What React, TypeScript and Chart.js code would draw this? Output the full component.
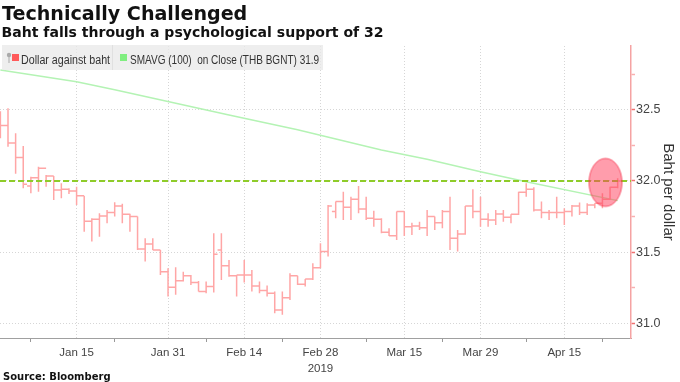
import React, { useEffect, useRef } from 'react';
import { Chart, registerables } from 'chart.js';

Chart.register(...registerables);

// Trading-day index 0 = Jan 1, 2019 ... 81 = Apr 24, 2019
const tickIdx = [10, 22, 32, 42, 53, 63, 74];
const tickLabels: (string | string[])[] = ['Jan 15', 'Jan 31', 'Feb 14', ['Feb 28', '2019'], 'Mar 15', 'Mar 29', 'Apr 15'];
const minorTickIdx = [4, 15, 27, 37, 48, 58, 69, 79];

const yMajorTicks = [31.0, 31.5, 32.0, 32.5];
const yMinorTicks = [31.25, 31.75, 32.25, 32.75];

const opens = [
  32.40, 32.389, 32.267, 32.164, 31.965, 32.023, 32.09, 32.035, 31.937, 31.941,
  31.93, 31.897, 31.717, 31.731, 31.754, 31.778, 31.824, 31.766, 31.75, 31.522,
  31.558, 31.515, 31.363, 31.253, 31.30, 31.335, 31.286, 31.223, 31.258, 31.515,
  31.405, 31.335, 31.34, 31.34, 31.263, 31.23, 31.211, 31.094, 31.18, 31.335,
  31.274, 31.312, 31.391, 31.504, 31.785, 31.855, 31.815, 31.871, 31.803, 31.738,
  31.731, 31.64, 31.616, 31.785, 31.679, 31.684, 31.672, 31.75, 31.707, 31.785,
  31.597, 31.628, 31.824, 31.785, 31.731, 31.726, 31.768, 31.745, 31.766, 31.92,
  31.941, 31.796, 31.778, 31.778, 31.778, 31.785, 31.824, 31.778, 31.831, 31.843,
  31.871, 31.956,
];
const highs = [
  32.49, 32.51, 32.335, 32.246, 32.03, 32.10, 32.042, 32.035, 31.984, 31.949,
  31.96, 31.895, 31.738, 31.773, 31.796, 31.85, 31.84, 31.77, 31.75, 31.597,
  31.597, 31.515, 31.387, 31.394, 31.363, 31.34, 31.298, 31.293, 31.632, 31.632,
  31.445, 31.34, 31.445, 31.375, 31.293, 31.265, 31.223, 31.223, 31.352, 31.335,
  31.312, 31.422, 31.562, 31.831, 31.855, 31.925, 31.89, 31.965, 31.89, 31.79,
  31.738, 31.668, 31.785, 31.785, 31.707, 31.714, 31.796, 31.75, 31.796, 31.89,
  31.656, 31.824, 31.941, 31.89, 31.773, 31.796, 31.796, 31.766, 31.925, 31.984,
  31.955, 31.855, 31.796, 31.89, 31.808, 31.831, 31.848, 31.843, 31.843, 31.913,
  31.96, 32.019,
];
const lows = [
  32.30, 32.24, 32.05, 31.949, 31.913, 31.925, 31.96, 31.867, 31.878, 31.909,
  31.831, 31.644, 31.574, 31.609, 31.703, 31.75, 31.703, 31.644, 31.515, 31.434,
  31.515, 31.34, 31.188, 31.20, 31.293, 31.27, 31.223, 31.211, 31.216, 31.305,
  31.328, 31.188, 31.286, 31.223, 31.211, 31.188, 31.07, 31.06, 31.164, 31.27,
  31.258, 31.305, 31.387, 31.469, 31.738, 31.726, 31.726, 31.773, 31.726, 31.679,
  31.632, 31.614, 31.586, 31.614, 31.62, 31.656, 31.614, 31.656, 31.668, 31.515,
  31.504, 31.623, 31.738, 31.679, 31.679, 31.691, 31.714, 31.703, 31.761, 31.89,
  31.785, 31.738, 31.726, 31.738, 31.691, 31.75, 31.761, 31.761, 31.808, 31.808,
  31.867, 31.948,
];
const closes = [
  32.389, 32.267, 32.164, 31.977, 32.023, 32.09, 32.035, 31.937, 31.941, 31.93,
  31.897, 31.717, 31.731, 31.754, 31.778, 31.824, 31.766, 31.75, 31.522, 31.558,
  31.515, 31.363, 31.253, 31.30, 31.335, 31.286, 31.223, 31.258, 31.485, 31.405,
  31.335, 31.34, 31.34, 31.263, 31.23, 31.211, 31.094, 31.18, 31.335, 31.274,
  31.312, 31.391, 31.504, 31.824, 31.855, 31.815, 31.871, 31.803, 31.738, 31.731,
  31.64, 31.616, 31.785, 31.679, 31.684, 31.672, 31.75, 31.707, 31.785, 31.597,
  31.628, 31.824, 31.785, 31.731, 31.726, 31.768, 31.745, 31.766, 31.92, 31.941,
  31.796, 31.778, 31.778, 31.778, 31.785, 31.824, 31.778, 31.831, 31.843, 31.871,
  31.956, 32.0,
];

// 100-day simple moving average (read at points along the line)
const smaIdx = [0, 10, 15, 30, 39, 50, 56, 63, 69, 81];
const smaValues = [32.78, 32.697, 32.64, 32.463, 32.36, 32.218, 32.152, 32.065, 31.995, 31.862];

const supportLevel = 32;
const highlightIdx = 79.4;
const highlightValue = 31.99;

const X_MIN = -0.05;
const X_MAX = 82.75;

const isYMajor = (v: number) => Math.abs(v * 2 - Math.round(v * 2)) < 1e-6;

function makeEllipse() {
  const c = document.createElement('canvas');
  c.width = 36;
  c.height = 52;
  const g = c.getContext('2d')!;
  g.beginPath();
  g.ellipse(18, 26, 16.5, 24, 0, 0, Math.PI * 2);
  g.fillStyle = 'rgba(255,60,90,0.5)';
  g.fill();
  g.strokeStyle = 'rgba(245,50,75,0.75)';
  g.lineWidth = 1;
  g.stroke();
  return c;
}

export default function App() {
  const ref = useRef<HTMLCanvasElement | null>(null);

  useEffect(() => {
    if (!ref.current) return;
    const ohlcPts: { x: number; y: number | null }[] = [];
    for (let i = 0; i < closes.length; i++) {
      ohlcPts.push({ x: i - 0.5, y: opens[i] }, { x: i, y: opens[i] }, { x: i, y: null });
      ohlcPts.push({ x: i, y: highs[i] }, { x: i, y: lows[i] }, { x: i, y: null });
      ohlcPts.push({ x: i, y: closes[i] }, { x: i + 0.5, y: closes[i] }, { x: i + 0.5, y: null });
    }
    const allX = [...tickIdx, ...minorTickIdx].sort((a, b) => a - b);

    const chart = new Chart(ref.current, {
      type: 'line',
      data: {
        datasets: [
          {
            label: 'highlight',
            data: [{ x: highlightIdx, y: highlightValue }],
            pointStyle: makeEllipse() as any,
            pointRadius: 10,
            showLine: false,
          },
          {
            label: 'support',
            data: [{ x: X_MIN, y: supportLevel }, { x: X_MAX, y: supportLevel }],
            borderColor: '#8fcc2a',
            borderWidth: 2,
            borderDash: [6, 3],
            pointRadius: 0,
          },
          {
            label: 'Dollar against baht',
            data: ohlcPts as any,
            borderColor: '#ffa6a6',
            borderWidth: 1.5,
            pointRadius: 0,
            spanGaps: false,
          },
          {
            label: 'SMAVG (100)',
            data: smaIdx.map((x, k) => ({ x, y: smaValues[k] })),
            borderColor: '#b4f3b4',
            borderWidth: 1.5,
            pointRadius: 0,
          },
        ],
      },
      options: {
        animation: false,
        responsive: false,
        events: [],
        layout: { autoPadding: false, padding: { top: 46, left: 0, right: 0, bottom: 0 } },
        elements: { line: { tension: 0 } },
        plugins: { legend: { display: false }, tooltip: { enabled: false } },
        scales: {
          x: {
            type: 'linear',
            min: X_MIN,
            max: X_MAX,
            position: 'bottom',
            afterBuildTicks: (s: any) => {
              s.ticks = allX.map((v) => ({ value: v }));
            },
            afterFit: (s: any) => {
              s.height = 44;
            },
            ticks: {
              autoSkip: false,
              maxRotation: 0,
              minRotation: 0,
              padding: 2,
              color: '#444',
              font: { family: 'Liberation Sans', size: 11.5, lineHeight: 1.45 },
              callback: (v: any) => {
                const k = tickIdx.indexOf(v);
                return k >= 0 ? tickLabels[k] : '';
              },
            },
            grid: {
              color: (c: any) => (tickIdx.includes(c.tick?.value) ? '#d6d6d6' : 'rgba(0,0,0,0)'),
              lineWidth: 1,
              tickLength: 4,
              tickColor: (c: any) => (tickIdx.includes(c.tick?.value) ? 'rgba(0,0,0,0)' : '#999'),
            },
            border: { display: true, color: '#a0a0a0', width: 1, dash: [1, 2] },
          },
          y: {
            type: 'linear',
            position: 'right',
            min: 30.897,
            max: 32.948,
            afterBuildTicks: (s: any) => {
              s.ticks = [...yMajorTicks, ...yMinorTicks].sort((a, b) => a - b).map((v) => ({ value: v }));
            },
            afterFit: (s: any) => {
              s.width = 49;
            },
            ticks: {
              padding: 1,
              color: '#444',
              font: { family: 'Liberation Sans', size: 12.5 },
              callback: (v: any) => (isYMajor(v) ? Number(v).toFixed(1) : ''),
            },
            grid: {
              color: (c: any) => (c.tick && isYMajor(c.tick.value) ? '#d6d6d6' : 'rgba(0,0,0,0)'),
              lineWidth: 1,
              tickLength: 4,
              tickColor: (c: any) => (c.tick && isYMajor(c.tick.value) ? '#f07070' : '#f8b0b0'),
              tickWidth: 1.5,
            },
            border: { display: true, color: '#f5a3a3', width: 1.5, dash: [1, 2] },
            title: {
              display: true,
              text: 'Baht per dollar',
              color: '#333',
              font: { family: 'Liberation Sans', size: 15 },
              padding: { top: 3, bottom: 0 },
            },
          },
        },
      },
    });
    return () => chart.destroy();
  }, []);

  const legendText: React.CSSProperties = {
    position: 'absolute',
    top: 8.5,
    fontFamily: 'Liberation Sans',
    fontSize: 12,
    lineHeight: 1,
    color: '#333',
    whiteSpace: 'pre',
    transformOrigin: '0 0',
  };

  return (
    <div style={{ position: 'fixed', left: 0, top: 0, width: 680, height: 382, background: '#fff', overflow: 'hidden' }}>
      <canvas ref={ref} width={680} height={382} style={{ position: 'absolute', left: 0, top: 0, width: 680, height: 382 }} />
      <div style={{ position: 'absolute', left: 2, top: 4.4, fontFamily: 'DejaVu Sans', fontWeight: 'bold', fontSize: 19.1, lineHeight: 1, color: '#111', whiteSpace: 'nowrap' }}>
        Technically Challenged
      </div>
      <div style={{ position: 'absolute', left: 1.5, top: 25.4, fontFamily: 'DejaVu Sans', fontWeight: 'bold', fontSize: 14.05, lineHeight: 1, color: '#111', whiteSpace: 'nowrap' }}>
        Baht falls through a psychological support of 32
      </div>
      <div style={{ position: 'absolute', left: 2, top: 45, width: 321, height: 25, background: 'rgba(232,232,232,0.75)' }}>
        <svg width={8} height={14} style={{ position: 'absolute', left: 4, top: 7 }}>
          <circle cx={3} cy={3} r={2.2} fill="#aaa" />
          <line x1={3} y1={4} x2={3} y2={11} stroke="#aaa" strokeWidth={1} />
        </svg>
        <div style={{ position: 'absolute', left: 10, top: 9, width: 7, height: 7, background: '#ff5a5a' }} />
        <div style={{ ...legendText, left: 19, transform: 'scaleX(0.89)' }}>Dollar against baht</div>
        <div style={{ position: 'absolute', left: 110, top: 0, width: 1, height: 25, background: 'rgba(0,0,0,0.06)' }} />
        <div style={{ position: 'absolute', left: 118, top: 9, width: 7, height: 7, background: '#80ee80' }} />
        <div style={{ ...legendText, left: 128, transform: 'scaleX(0.835)' }}>{'SMAVG (100)  on Close (THB BGNT) 31.9'}</div>
      </div>
      <div style={{ position: 'absolute', left: 3, top: 371.5, fontFamily: 'DejaVu Sans', fontWeight: 'bold', fontSize: 10, lineHeight: 1, color: '#111', whiteSpace: 'nowrap' }}>
        Source: Bloomberg
      </div>
    </div>
  );
}
